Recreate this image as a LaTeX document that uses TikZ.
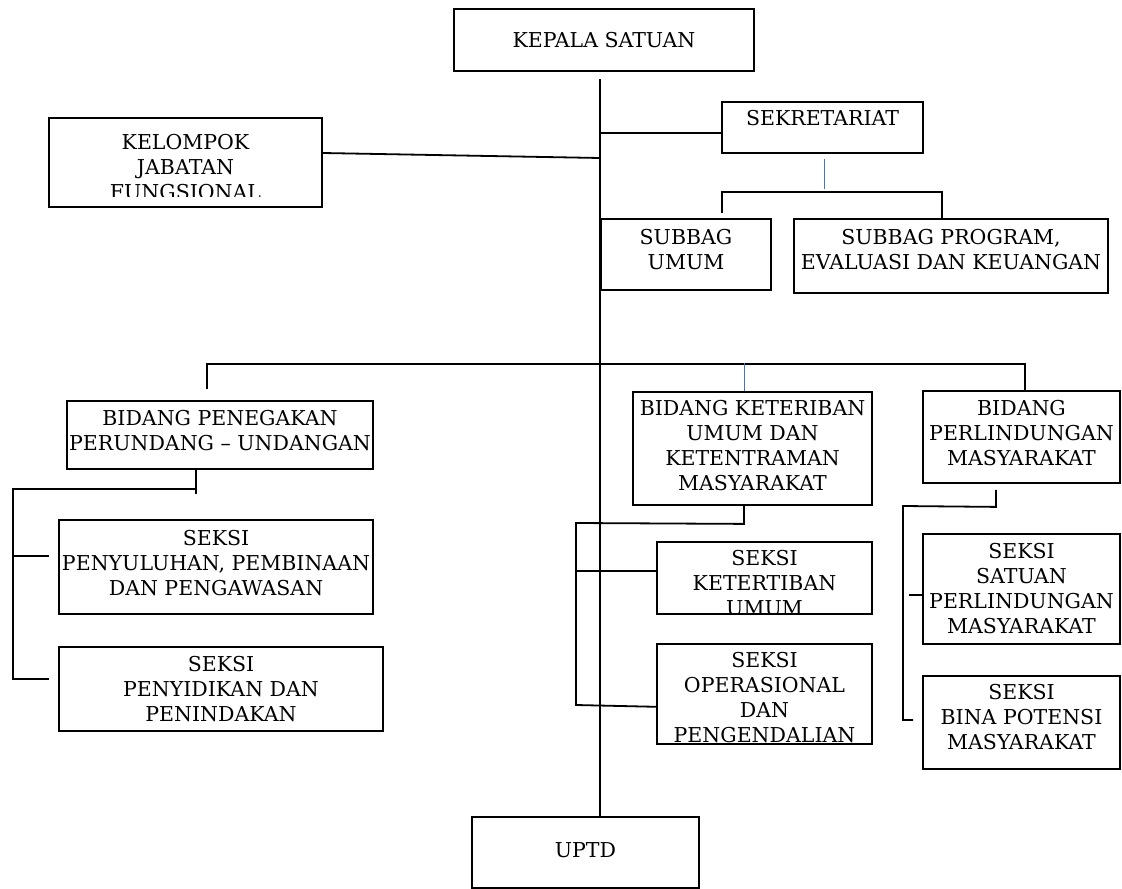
\documentclass[tikz,border=0pt]{standalone}
\usepackage{fontspec}
\setmainfont{DejaVu Serif}
\usepackage{tikz}
\usetikzlibrary{positioning}

\definecolor{wordblue}{RGB}{68,114,196}

\tikzset{
    unit/.style={draw, rectangle, line width=1.8pt, align=center, inner sep=0pt, font=\fontsize{20.5}{25}\selectfont},
    unittext/.style={align=center, inner sep=0pt, font=\fontsize{20.5}{25}\selectfont},
    link/.style={draw, line width=1.8pt},
    bluelink/.style={draw, line width=1pt, color=wordblue},
}

\begin{document}
\begin{tikzpicture}[x=1pt, y=-1pt]
    \useasboundingbox (0,0) rectangle (1122,889);

    % pimpinan dan sekretariat
    \node[unit, minimum width=300pt, minimum height=62pt] (kepala) at (604,40) {KEPALA SATUAN};
    \node[unit, minimum width=273pt, minimum height=89pt] (kelompok) at (185.5,162.5) {};
    \begin{scope}
        \clip (kelompok.north west) rectangle ([yshift=11.5pt]kelompok.south east);
        \node[unittext] (kelompok_text) at ([yshift=-5pt]kelompok.center) {KELOMPOK\\JABATAN\\FUNGSIONAL};
    \end{scope}
    \node[unit, minimum width=201pt, minimum height=51pt, text depth=19pt] (sekretariat) at (822.5,127.5) {SEKRETARIAT};
    \node[unit, minimum width=170pt, minimum height=71pt, text depth=10pt] (subbag_umum) at (686,254.5) {SUBBAG\\UMUM};
    \node[unit, minimum width=314pt, minimum height=74pt, text depth=14pt] (subbag_program) at (951,256) {SUBBAG PROGRAM,\\EVALUASI DAN KEUANGAN};

    % bidang penegakan
    \node[unit, minimum width=306pt, minimum height=68pt, text depth=9pt] (bidang_penegakan) at (220,435) {BIDANG PENEGAKAN\\PERUNDANG – UNDANGAN};
    \node[unit, minimum width=314pt, minimum height=94pt, text depth=8pt] (seksi_penyuluhan) at (216,567) {SEKSI\\PENYULUHAN, PEMBINAAN\\DAN PENGAWASAN};
    \node[unit, minimum width=324pt, minimum height=84pt] (seksi_penyidikan) at (221,689) {SEKSI\\PENYIDIKAN DAN\\PENINDAKAN};

    % bidang ketertiban
    \node[unit, minimum width=239pt, minimum height=113pt, text depth=7pt] (bidang_ketertiban) at (752.5,448.5) {BIDANG KETERIBAN\\UMUM DAN\\KETENTRAMAN\\MASYARAKAT};
    \node[unit, minimum width=215pt, minimum height=72pt] (seksi_ketertiban) at (764.5,578) {};
    \begin{scope}
        \clip (seksi_ketertiban.north west) rectangle ([yshift=2pt]seksi_ketertiban.south east);
        \node[unittext] (seksi_ketertiban_text) at ([yshift=-5pt]seksi_ketertiban.center) {SEKSI\\KETERTIBAN\\UMUM};
    \end{scope}
    \node[unit, minimum width=215pt, minimum height=100pt, below=28pt of seksi_ketertiban] (seksi_operasional) {};
    \begin{scope}
        \clip (seksi_operasional.north west) rectangle ([yshift=2pt]seksi_operasional.south east);
        \node[unittext] (seksi_operasional_text) at ([yshift=-4pt]seksi_operasional.center) {SEKSI\\OPERASIONAL\\DAN\\PENGENDALIAN};
    \end{scope}

    % bidang perlindungan
    \node[unit, minimum width=197pt, minimum height=92pt, text depth=8pt] (bidang_perlindungan) at (1021.5,437) {BIDANG\\PERLINDUNGAN\\MASYARAKAT};
    \node[unit, minimum width=197pt, minimum height=110pt, below=49pt of bidang_perlindungan] (seksi_satuan) {SEKSI\\SATUAN\\PERLINDUNGAN\\MASYARAKAT};
    \node[unit, minimum width=197pt, minimum height=93pt, text depth=11pt, below=30pt of seksi_satuan] (seksi_bina) {SEKSI\\BINA POTENSI\\MASYARAKAT};

    \node[unit, minimum width=227pt, minimum height=71pt, text depth=5pt] (uptd) at (585.5,852.5) {UPTD};

    % garis komando
    \coordinate (trunk_top) at (600,79);
    \draw[link] (trunk_top) -- (trunk_top |- uptd.north);

    \coordinate (kelompok_join) at (600,158);
    \draw[link] ([yshift=9.5pt]kelompok.east) -- (kelompok_join);

    \coordinate (sekretariat_join) at (600,133);
    \draw[link] (sekretariat_join) -- (sekretariat_join -| sekretariat.west);
    \draw[bluelink] ([xshift=1.5pt, yshift=-5pt]sekretariat.south) -- ++(0,30);

    \coordinate (subbag_left) at (722,192);
    \coordinate (subbag_right) at (942,192);
    \coordinate (subbag_left_end) at (722,213);
    \draw[link] (subbag_left_end) -- (subbag_left) -- (subbag_right) -- (subbag_right |- subbag_program.north);

    \coordinate (bus_left) at (207,364);
    \coordinate (bus_right) at (1025,364);
    \coordinate (bus_left_end) at (207,389);
    \draw[link] (bus_left_end) -- (bus_left) -- (bus_right) -- (bus_right |- bidang_perlindungan.north);
    \draw[bluelink] ([xshift=-8.5pt]bidang_ketertiban.north) -- ++(0,-28);

    \coordinate (left_turn) at (196,489);
    \coordinate (left_spine) at (13,489);
    \coordinate (left_spine_end) at (13,679);
    \draw[link] ([xshift=-24pt]bidang_penegakan.south) -- ++(0,24);
    \draw[link] (left_turn) -- (left_spine) -- (left_spine_end) -- ++(36,0);
    \draw[link] ([xshift=-9pt, yshift=11pt]seksi_penyuluhan.west) -- ++(-37,0);

    \coordinate (mid_spine) at (576,523);
    \draw[link] ([xshift=-8.5pt]bidang_ketertiban.south) -- ++(0,18) -- (mid_spine) -- ++(0,182) -- ([yshift=-13pt]seksi_operasional.west);
    \draw[link] ([yshift=7pt]seksi_ketertiban.west) -- ++(-81,0);

    \coordinate (right_spine) at (903,506);
    \draw[link] ([xshift=-25.5pt, yshift=-6pt]bidang_perlindungan.south) -- ++(0,17) -- (right_spine) -- ++(0,214) -- ++(10,0);
    \draw[link] ([yshift=-6pt]seksi_satuan.west) -- ++(-13,0);

\end{tikzpicture}
\end{document}
